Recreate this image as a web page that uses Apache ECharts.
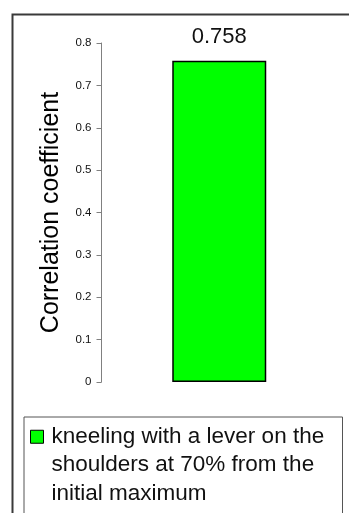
<!DOCTYPE html>
<html><head><meta charset="utf-8">
<script src="https://cdn.jsdelivr.net/npm/echarts@6/dist/echarts.min.js"></script>
<style>html,body{margin:0;padding:0;background:#fff}#c{width:349px;height:513px}</style>
</head><body><div id="c"></div>
<script>
const categories = ['kneeling with a lever on the\nshoulders at 70% from the\ninitial maximum'];
const seriesName = categories[0];
const values = [0.758];
const yTicks = { min: 0, max: 0.8, interval: 0.1 };
const yAxisTitle = 'Correlation coefficient';

const FONT = '"Liberation Sans", Arial, sans-serif';
const chart = echarts.init(document.getElementById('c'), null, { renderer: 'canvas' });
chart.setOption({
  animation: false,
  backgroundColor: '#fff',
  textStyle: { fontFamily: FONT },
  graphic: [
    { type: 'rect', left: 10, top: 12, shape: { x: 0, y: 0, width: 400, height: 600 },
      style: { fill: 'none', stroke: '#3a3a3a', lineWidth: 2 }, z: -1 },
    { type: 'rect', left: 21.5, top: 414.5, shape: { x: 0, y: 0, width: 318.5, height: 200 },
      style: { fill: 'none', stroke: '#555', lineWidth: 1 }, z: -1 }
  ],
  grid: { left: 101.5, right: 12, top: 43, bottom: 131, containLabel: false },
  xAxis: {
    type: 'category', data: categories,
    axisLine: { show: false }, axisTick: { show: false }, axisLabel: { show: false }
  },
  yAxis: {
    type: 'value', min: yTicks.min, max: yTicks.max, interval: yTicks.interval,
    name: yAxisTitle, nameLocation: 'middle', nameRotate: 90, nameGap: 38,
    nameTextStyle: { fontSize: 25, color: '#000', fontFamily: FONT },
    axisLine: { show: true, lineStyle: { color: '#808080', width: 1 } },
    axisTick: { show: true, length: 5, lineStyle: { color: '#808080' } },
    axisLabel: { fontSize: 11.5, color: '#111', margin: 10, fontFamily: FONT },
    splitLine: { show: false }
  },
  legend: {
    left: 30, top: 366, orient: 'vertical', padding: 0,
    itemWidth: 13, itemHeight: 13, icon: 'rect',
    data: [seriesName],
    formatter: name => '\n\n' + name,
    itemStyle: { borderColor: '#000', borderWidth: 1 },
    textStyle: { fontSize: 22.5, lineHeight: 28.3, color: '#111', fontFamily: FONT, padding: [0, 0, 0, 3] }
  },
  series: [{
    name: seriesName, type: 'bar', data: values, barWidth: 94,
    itemStyle: { color: '#00ff00', borderColor: '#000', borderWidth: 1.5 },
    label: { show: true, position: 'top', distance: 13, fontSize: 22, color: '#111', fontFamily: FONT,
      formatter: p => p.value.toFixed(3) }
  }]
});
</script></body></html>
